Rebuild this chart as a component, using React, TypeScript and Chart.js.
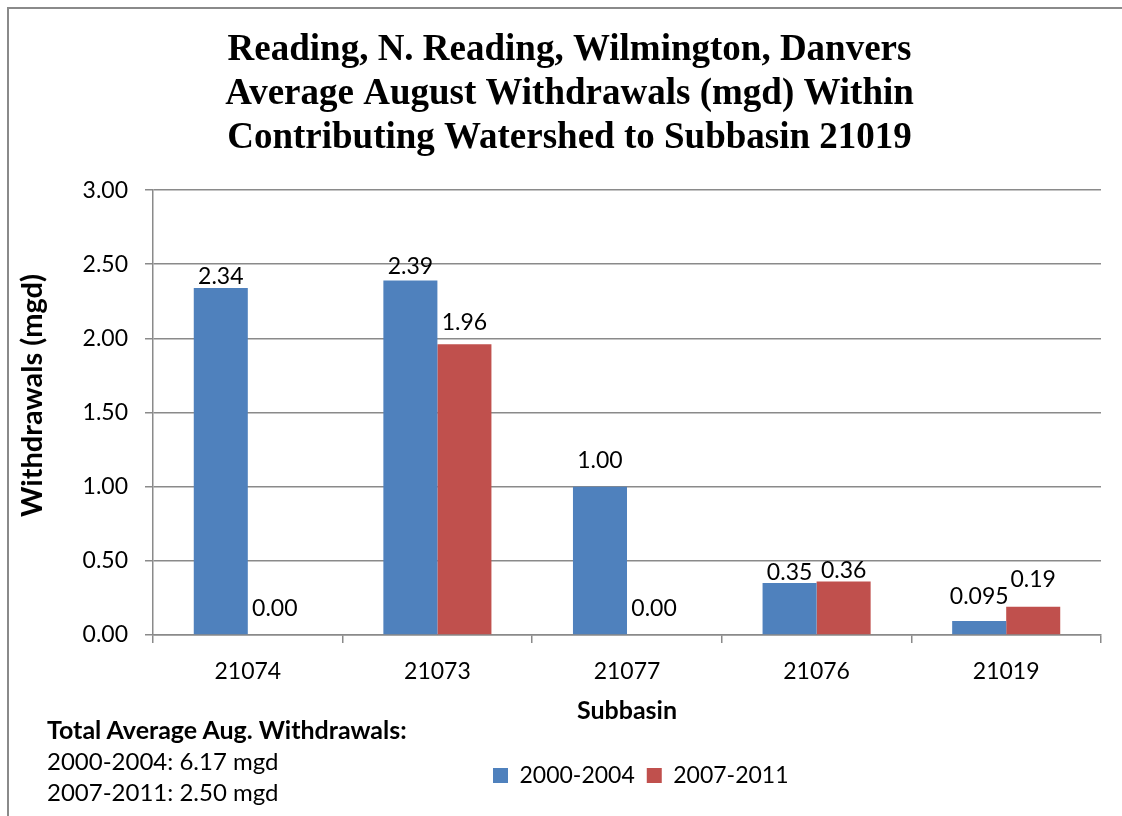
import React, { useEffect, useRef } from "react";
import { Chart, registerables } from "chart.js";

Chart.register(...registerables);

const categories = ["21074", "21073", "21077", "21076", "21019"];
const seriesNames = ["2000-2004", "2007-2011"];
const values2000 = [2.34, 2.39, 1.0, 0.35, 0.095];
const values2007 = [0.0, 1.96, 0.0, 0.36, 0.19];
const yTickValues = [0, 0.5, 1, 1.5, 2, 2.5, 3];
const titleLines = [
  "Reading, N. Reading, Wilmington, Danvers",
  "Average August Withdrawals (mgd) Within",
  "Contributing Watershed to Subbasin 21019",
];
const yAxisTitle = "Withdrawals (mgd)";
const xAxisTitle = "Subbasin";
const noteHeading = "Total Average Aug. Withdrawals:";
const noteLines = ["2000-2004: 6.17 mgd", "2007-2011: 2.50 mgd"];

const BLUE = "#4F81BD";
const RED = "#C0504D";
const GRID = "#8a8a8a";
const FONT = "Lato, 'Open Sans', sans-serif";

// vertical lift (px) of each label centre above its bar top, per dataset
const labelLift = [
  [11, 14, 26, 11, 24],
  [26, 22, 26, 11, 27],
];

function fmt(v: number): string {
  const s = String(Number(v.toFixed(3)));
  const parts = s.split(".");
  const dec = parts[1] || "";
  return parts[0] + "." + (dec.length < 2 ? dec.padEnd(2, "0") : dec);
}

const dataLabelPlugin = {
  id: "barValueLabels",
  afterDatasetsDraw(chart: any) {
    const ctx = chart.ctx;
    ctx.save();
    ctx.font = "23px " + FONT;
    ctx.fillStyle = "#000";
    ctx.textAlign = "center";
    ctx.textBaseline = "middle";
    chart.data.datasets.forEach((ds: any, di: number) => {
      const meta = chart.getDatasetMeta(di);
      meta.data.forEach((el: any, i: number) => {
        const v = ds.data[i] as number;
        ctx.fillText(fmt(v), el.x, el.y - labelLift[di][i]);
      });
    });
    ctx.restore();
  },
};

// rotated y-axis title, placed like the reference
const yTitlePlugin = {
  id: "yTitle",
  afterDraw(chart: any) {
    const ctx = chart.ctx;
    const area = chart.chartArea;
    ctx.save();
    ctx.translate(33, (area.top + area.bottom) / 2 - 17);
    ctx.rotate(-Math.PI / 2);
    ctx.font = "bold 29px " + FONT;
    ctx.fillStyle = "#000";
    ctx.textAlign = "center";
    ctx.textBaseline = "middle";
    ctx.fillText(yAxisTitle, 0, 0);
    ctx.restore();
  },
};

// place title and legend where the reference has them
const placementPlugin = {
  id: "placement",
  afterLayout(chart: any) {
    const t = chart.titleBlock;
    if (t) {
      t.left += 15;
      t.right += 15;
    }
    const l = chart.legend;
    if (l) {
      l.left = 481;
      l.top += 26;
      l.bottom += 26;
    }
  },
};

export default function App() {
  const ref = useRef<HTMLCanvasElement | null>(null);
  useEffect(() => {
    if (!ref.current) return;
    const chart = new Chart(ref.current, {
      type: "bar",
      data: {
        labels: categories,
        datasets: [
          { label: seriesNames[0], data: values2000, backgroundColor: BLUE, borderWidth: 0 },
          { label: seriesNames[1], data: values2007, backgroundColor: RED, borderWidth: 0 },
        ],
      },
      plugins: [dataLabelPlugin, placementPlugin, yTitlePlugin],
      options: {
        responsive: false,
        animation: false,
        devicePixelRatio: 1,
        layout: { padding: { left: 8, right: 21, top: 0, bottom: 45 } },
        datasets: { bar: { barPercentage: 1, categoryPercentage: 0.57 } },
        plugins: {
          tooltip: { enabled: false },
          title: {
            display: true,
            text: titleLines,
            color: "#000",
            font: { family: "'Liberation Serif', 'Times New Roman', serif", size: 37, weight: "bold", lineHeight: 1.19 },
            padding: { top: 28, bottom: 30 },
          },
          legend: {
            display: true,
            position: "bottom",
            align: "start",
            labels: {
              color: "#000",
              font: { family: FONT, size: 23 },
              boxWidth: 15,
              boxHeight: 15,
              padding: 12,
            },
          },
        },
        scales: {
          x: {
            afterFit: (s: any) => {
              s.height = 91;
            },
            grid: { display: true, drawOnChartArea: false, drawTicks: true, tickLength: 8, color: GRID, offset: true, lineWidth: 1.5 },
            border: { display: true, color: GRID, width: 1.5 },
            ticks: { color: "#000", font: { family: FONT, size: 23 }, padding: 15, maxRotation: 0 },
            title: {
              display: true,
              text: xAxisTitle,
              color: "#000",
              font: { family: FONT, size: 25, weight: "bold" },
              padding: { top: 0, bottom: 0 },
            },
          },
          y: {
            min: 0,
            max: 3,
            afterFit: (s: any) => {
              s.width = 145;
            },
            afterBuildTicks: (s: any) => {
              s.ticks = yTickValues.map((v) => ({ value: v }));
            },
            grid: { color: GRID, lineWidth: 1.5, drawTicks: true, tickLength: 8 },
            border: { display: true, color: GRID, width: 1.5 },
            ticks: {
              color: "#000",
              font: { family: FONT, size: 23 },
              padding: 17,
              callback: (v: any) => Number(v).toFixed(2),
            },
            title: { display: false },
          },
        },
      },
    } as any);
    return () => chart.destroy();
  }, []);

  return (
    <div style={{ position: "absolute", left: 0, top: 0, width: 1122, height: 816, background: "#fff", overflow: "hidden" }}>
      <canvas ref={ref} width={1122} height={816} style={{ position: "absolute", left: 0, top: 0 }} />
      <div
        style={{
          position: "absolute",
          left: 7,
          top: 7,
          width: 1115,
          height: 809,
          boxSizing: "border-box",
          borderLeft: "2px solid #8a8a8a",
          borderTop: "2px solid #8a8a8a",
          pointerEvents: "none",
        }}
      />
      <div
        style={{
          position: "absolute",
          left: 47,
          top: 714,
          fontFamily: FONT,
          fontSize: 24,
          lineHeight: "31px",
          color: "#000",
          whiteSpace: "nowrap",
        }}
      >
        <div style={{ fontWeight: "bold", fontSize: 25 }}>{noteHeading}</div>
        {noteLines.map((l) => (
          <div key={l}>{l}</div>
        ))}
      </div>
    </div>
  );
}
